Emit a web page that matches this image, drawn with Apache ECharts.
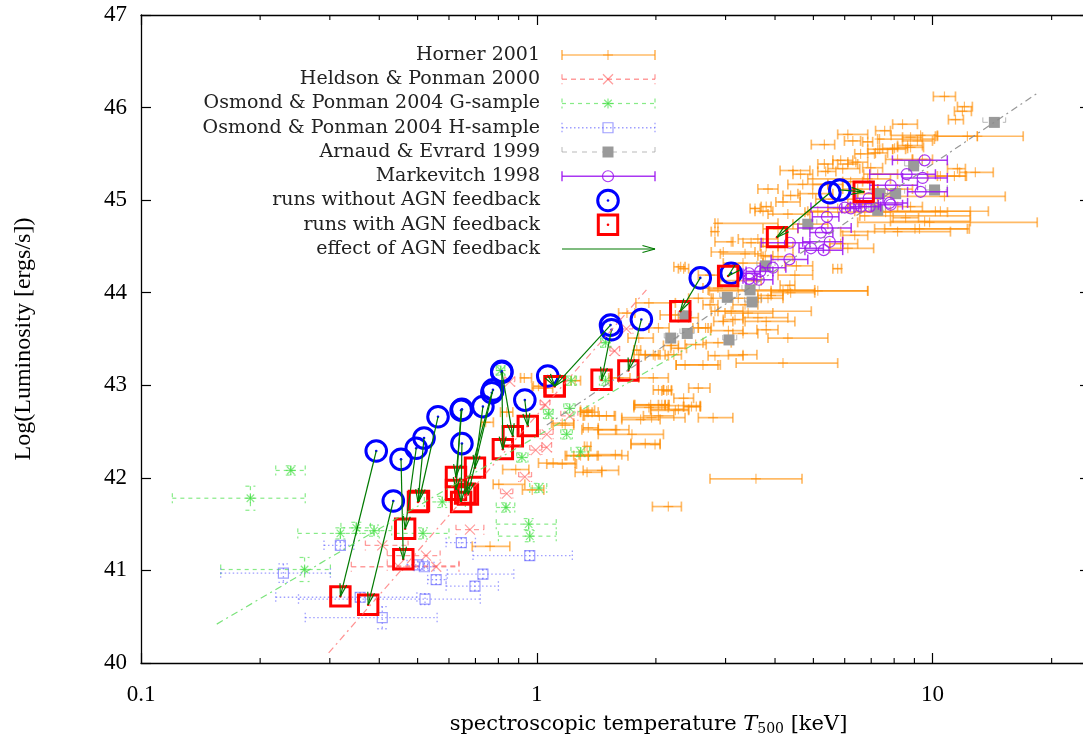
<!DOCTYPE html>
<html><head><meta charset="utf-8">
<script src="https://cdn.jsdelivr.net/npm/echarts@6/dist/echarts.min.js"></script>
<style>html,body{margin:0;padding:0;background:#fff;overflow:hidden}#c{width:1090px;height:741px}</style>
</head><body><div id="c"></div>
<script>
// ---------------- data ----------------
// Horner 2001: [T, logL, Tlow, Thigh]
const horner = [
[3.58,41.99,2.74,4.68],[2.15,41.69,1.96,2.32],[1.34,42.06,1.25,1.46],[1.88,42.37,1.73,2.05],
[1.43,42.52,1.30,1.59],[1.74,42.47,1.43,2.09],[1.42,42.24,1.19,1.70],[1.10,42.16,1.01,1.25],
[1.34,42.34,1.32,1.37],[1.44,42.67,1.32,1.57],[1.34,42.71,1.29,1.38],[1.83,42.63,1.64,2.05],
[1.94,42.79,1.77,2.11],[2.11,42.79,2.03,2.16],[2.24,42.73,1.94,2.42],[2.53,42.77,2.35,2.59],
[2.35,42.86,2.22,2.49],[2.03,42.67,1.86,2.22],[1.18,42.57,1.10,1.24],[2.13,42.94,2.07,2.19],
[2.07,42.79,1.76,2.15],[2.46,42.77,2.35,2.59],[2.28,42.74,1.94,2.42],[2.63,43.22,2.25,2.91],
[4.19,43.24,3.19,5.76],[2.82,43.32,2.71,3.32],[3.32,43.33,3.05,3.60],[1.97,43.33,1.81,2.05],
[2.22,43.33,2.11,2.32],[2.52,43.44,2.37,2.68],[2.03,42.95,1.97,2.09],[3.80,43.60,3.60,4.07],
[3.05,43.59,2.75,3.32],[2.67,43.62,2.56,2.76],[2.96,43.69,2.80,3.13],[3.80,43.69,3.36,4.49],
[3.17,43.71,2.96,3.32],[3.42,43.78,2.99,3.95],[2.24,43.76,2.05,2.35],[4.19,44.02,2.73,6.86],
[4.38,44.00,3.91,5.04],[3.91,43.97,3.62,4.19],[3.36,43.87,3.13,3.62],[3.10,43.80,2.87,3.32],
[4.36,44.08,4.12,4.49],[1.46,42.08,1.31,1.61],[1.58,42.52,1.43,1.71],[2.31,44.28,2.22,2.37],
[2.74,44.19,2.56,2.91],[0.93,43.08,0.91,0.97],[1.01,42.99,0.98,1.05],[1.25,43.05,1.22,1.29],
[1.34,42.73,1.29,1.40],[1.16,42.15,1.06,1.26],[0.84,42.71,0.81,0.87],[2.15,42.95,2.09,2.19],
[2.11,42.78,1.76,2.59],[0.885,42.09,0.82,0.955],[1.29,42.24,1.24,1.35],[2.74,43.87,2.63,2.87],
[2.56,43.62,2.48,2.71],[1.88,43.33,1.76,2.03],[2.19,43.43,2.09,2.28],[2.37,43.22,2.25,2.87],
[1.69,43.78,1.61,1.77],[1.92,43.89,1.78,2.24],[1.79,43.38,1.76,1.83],[1.99,43.32,1.88,2.15],
[2.28,43.40,2.18,2.39],[1.92,42.76,1.76,2.15],[1.95,42.65,1.64,2.37],[1.50,42.67,1.31,1.58],
[1.99,42.36,1.73,2.05],[1.58,42.25,1.28,1.64],[0.743,42.60,0.726,0.777],[10.72,46.12,10.05,11.43],
[11.90,45.96,11.36,12.54],[11.43,45.87,10.97,11.97],[12.98,45.69,10.17,16.95],[9.33,45.70,7.86,10.29],
[7.57,45.75,7.18,7.83],[9.16,45.64,8.40,10.0],[8.80,45.57,8.16,9.49],[8.02,45.56,7.48,8.65],
[11.56,45.34,10.91,12.11],[12.83,45.30,11.70,14.24],[10.47,45.26,9.71,12.18],[10.72,45.04,7.27,15.27],
[10.17,44.88,7.83,13.84],[9.83,44.76,6.47,18.39],[9.27,44.69,7.57,12.39],[8.55,44.81,7.95,9.22],
[12.25,45.69,10.29,12.98],[8.80,45.68,8.40,9.43],[6.29,45.64,5.99,6.58],[6.86,45.63,6.66,7.06],
[5.33,45.60,4.94,5.66],[8.65,45.59,8.16,9.43],[7.93,45.55,7.35,8.55],[7.18,45.51,6.86,7.70],
[6.58,45.50,6.36,7.14],[5.86,45.43,5.60,6.29],[6.40,45.41,6.11,6.86],[4.44,45.32,4.12,4.90],
[5.37,45.31,5.13,5.70],[4.64,45.28,4.44,4.98],[6.11,45.39,5.76,6.47],[6.98,45.35,6.66,7.48],
[6.86,45.23,4.84,7.83],[6.21,45.20,5.93,6.66],[11.36,45.26,10.29,12.11],[3.80,44.93,3.69,3.91],
[4.19,44.98,4.02,4.63],[4.38,45.05,4.19,4.63],[5.13,44.88,4.84,5.44],[5.76,44.91,5.44,6.11],
[10.47,44.88,6.36,12.46],[9.55,44.77,7.83,12.46],[9.03,44.69,7.14,12.25],[8.16,44.66,5.86,11.10],
[3.56,44.91,3.46,3.67],[3.73,44.88,3.56,3.95],[2.87,44.75,2.82,4.07],[2.82,44.66,2.76,2.87],
[3.10,44.55,2.82,3.13],[3.48,44.54,3.32,3.73],[3.80,44.50,3.67,4.07],[4.24,44.50,4.07,4.44],
[2.96,44.44,2.76,3.56],[3.36,44.42,2.91,3.69],[3.78,44.40,3.62,3.95],[2.35,44.26,2.28,2.42],
[4.53,44.29,4.24,4.98],[4.49,44.19,4.07,4.98],[5.76,44.26,5.60,5.89],[3.58,44.13,2.91,3.69],
[4.31,44.03,2.71,5.04],[5.13,44.02,3.91,6.86],[3.23,43.94,2.76,3.69],[3.84,43.94,3.62,4.19],
[2.82,43.80,2.76,4.94],[5.86,44.53,5.50,6.47],[6.11,44.48,5.50,7.10],[6.36,44.62,5.93,6.86],
[6.74,44.83,6.55,12.46],[7.61,44.87,4.76,10.91],[8.80,44.93,8.16,9.43],[7.35,45.66,7.27,10.11],
[5.33,45.39,5.13,5.60],[12.04,46.01,11.56,12.61],[0.762,41.26,0.687,0.855],[1.042,42.97,0.973,1.097],
[1.352,42.71,1.29,1.43],[1.16,42.59,1.09,1.24],[1.35,42.54,1.31,1.43],[1.35,42.24,1.18,1.43],
[0.802,41.93,0.776,0.933],[0.974,41.87,0.92,1.042],
[4.70,45.17,4.31,5.44],[4.98,45.07,4.57,5.60],[5.60,45.01,5.07,6.47],[4.31,44.85,3.84,4.90],
[4.84,44.74,4.44,5.44],[4.07,44.69,3.73,4.57],[6.47,45.12,5.93,7.27],[7.27,45.28,6.70,8.16],
[5.93,45.34,5.44,6.55],[8.16,45.44,7.61,8.90],[7.06,45.07,6.47,7.83],[3.62,44.58,3.23,4.07],
[3.32,44.32,2.96,3.73],[2.87,44.05,2.63,3.23],[2.56,43.94,2.42,2.79],[3.62,43.73,3.32,4.31],
[3.32,43.56,3.13,3.62],[4.31,43.51,3.84,5.44],[2.42,43.73,2.28,2.56],[2.87,43.46,2.63,3.10],
[4.07,44.39,3.73,4.44],[8.16,45.12,7.27,8.90],[9.43,45.44,8.90,10.0],[6.66,44.96,6.11,7.27],
[5.44,45.17,4.98,5.93],[3.84,45.12,3.62,4.07],[7.27,45.55,6.86,7.93],[6.11,45.71,5.76,6.86],
[8.40,45.82,7.93,9.16],[1.81,43.51,1.70,1.97],[2.03,43.62,1.92,2.16],[1.61,43.08,1.52,1.72],
[1.97,43.08,1.81,2.15],[2.56,42.97,2.42,2.74],[2.79,42.65,2.56,3.13]
];
// Heldson & Ponman 2000: [T, logL, Tlow, Thigh]
const heldson = [
[0.407,41.27,0.369,0.473],[0.525,41.16,0.419,0.570],[0.557,41.04,0.340,0.636],[0.446,41.05,0.419,0.636],
[0.678,41.44,0.625,0.735],[0.840,41.83,0.81,0.87],[0.933,42.01,0.90,0.97],[0.994,42.30,0.96,1.03],
[1.06,42.47,1.02,1.10],[1.06,42.33,1.03,1.09],[1.21,42.67,1.15,1.27],[0.855,43.04,0.83,0.88],
[1.685,43.61,1.62,1.75],[1.573,43.37,1.53,1.62],[1.05,42.79,1.02,1.08]
];
// Osmond & Ponman 2004 G-sample: [T, logL, Tlow, Thigh, dlogL]
const osmondG = [
[0.189,41.78,0.120,0.260,0.13],[0.239,42.08,0.219,0.260,0.05],[0.259,41.01,0.159,0.301,0.13],
[0.319,41.40,0.249,0.40,0.06],[0.350,41.46,0.32,0.38,0.06],[0.388,41.43,0.35,0.43,0.06],
[0.516,41.40,0.44,0.60,0.06],[0.577,41.74,0.52,0.66,0.06],[0.954,41.50,0.79,1.12,0.06],
[0.960,41.37,0.80,1.12,0.06],[0.836,41.68,0.79,0.88,0.05],[1.012,41.89,0.96,1.06,0.05],
[0.811,43.16,0.79,0.83,0.05],[1.492,43.46,1.45,1.54,0.05],[1.492,43.05,1.44,1.54,0.05],
[1.211,42.75,1.17,1.25,0.05],[1.072,42.69,1.04,1.10,0.05],[1.190,42.47,1.15,1.23,0.05],
[0.917,42.22,0.89,0.95,0.05],[1.291,42.28,1.22,1.36,0.05],[1.222,43.05,1.19,1.26,0.05]
];
// Osmond & Ponman 2004 H-sample: [T, logL, Tlow, Thigh, dlogL]
const osmondH = [
[0.319,41.27,0.29,0.345,0.04],[0.229,40.97,0.159,0.301,0.10],[0.358,40.71,0.219,0.498,0.05],
[0.407,40.49,0.26,0.56,0.12],[0.501,41.06,0.47,0.53,0.04],[0.520,41.04,0.49,0.55,0.04],
[0.522,40.69,0.25,0.72,0.06],[0.557,40.90,0.53,0.59,0.05],[0.645,41.30,0.59,0.70,0.05],
[0.960,41.16,0.69,1.23,0.05],[0.731,40.96,0.594,0.875,0.05],[0.698,40.83,0.59,0.80,0.05]
];
// Arnaud & Evrard 1999: [T, logL, Tlow, Thigh]
const arnaud = [
[14.33,45.84,13.4,15.3],[8.96,45.37,8.5,9.4],[10.12,45.11,9.6,10.9],[8.07,45.07,7.6,8.5],
[7.35,45.07,7.0,7.7],[7.27,44.89,6.9,7.6],[4.84,44.74,4.6,5.1],[3.78,44.29,3.6,4.0],
[3.46,44.03,3.3,3.65],[3.03,43.95,2.9,3.2],[3.50,43.90,3.35,3.7],[2.37,43.75,2.28,2.46],
[2.18,43.51,2.1,2.27],[2.40,43.56,2.3,2.5],[3.06,43.49,2.95,3.2]
];
// Markevitch 1998: [T, logL, Tlow, Thigh]
const markevitch = [
[9.55,45.43,7.92,10.9],[8.60,45.28,6.94,10.17],[9.44,45.24,8.4,10.9],[7.84,45.16,6.94,9.16],
[9.33,45.09,8.65,10.9],[7.79,44.97,6.55,8.65],[7.84,44.95,7.3,8.4],[6.90,45.02,6.4,7.5],
[6.59,44.93,6.2,7.0],[6.00,44.92,4.93,6.33],[6.94,44.93,6.5,7.4],[6.22,44.91,5.9,6.6],
[5.41,44.82,4.97,5.80],[5.41,44.70,4.57,6.23],[5.22,44.65,4.9,5.6],[5.50,44.55,4.70,5.93],
[5.31,44.46,4.76,5.93],[4.93,44.48,4.6,5.3],[4.36,44.54,3.69,4.90],[4.35,44.36,3.91,4.84],
[3.95,44.27,3.67,4.26],[3.67,44.23,3.38,3.95],[3.44,44.21,3.32,3.67],[3.64,44.14,3.38,3.95],
[3.44,44.15,3.32,3.60]
];
// simulation runs (i-th run without AGN -> i-th run with AGN)
const runsNoAGN = [
[0.393,42.29],[0.434,41.75],[0.454,42.20],[0.496,42.32],[0.519,42.43],[0.563,42.66],
[0.647,42.74],[0.647,42.37],[0.644,42.73],[0.770,42.92],[0.775,42.95],[0.731,42.77],
[0.816,43.15],[0.816,43.14],[0.933,42.84],[1.066,43.10],[1.536,43.65],[1.545,43.60],
[1.838,43.71],[2.589,44.16],[3.099,44.21],[5.503,45.08],[5.831,45.11]
];
const runsAGN = [
[0.319,40.72],[0.375,40.63],[0.460,41.12],[0.465,41.45],[0.501,41.74],[0.504,41.75],
[0.625,42.01],[0.644,41.74],[0.625,41.87],[0.659,41.83],[0.670,41.82],[0.698,42.11],
[0.870,42.45],[0.821,42.31],[0.949,42.56],[1.110,42.99],[1.110,42.99],[1.458,43.06],
[1.704,43.16],[2.305,43.80],[3.045,44.18],[4.047,44.60],[6.70,45.09]
];
// power-law fit lines (end points)
const fitHeldson = [[0.298,40.11],[1.893,44.03]];
const fitOsmondG = [[0.1554,40.42],[2.76,43.555]];
const fitArnaud  = [[1.06,42.57],[18.39,46.155]];
// axes
const xMajorTicks = [0.1, 1, 10];
const xMinorTicks = [0.2,0.3,0.4,0.5,0.6,0.7,0.8,0.9,2,3,4,5,6,7,8,9,20];
const yTicks = [40,41,42,43,44,45,46,47];
const legendLabels = ['Horner 2001','Heldson & Ponman 2000','Osmond & Ponman 2004 G-sample',
  'Osmond & Ponman 2004 H-sample','Arnaud & Evrard 1999','Markevitch 1998',
  'runs without AGN feedback','runs with AGN feedback','effect of AGN feedback'];

// ---------------- styles ----------------
const ST = {
  horner: {color:'rgba(255,140,0,0.6)', lw:1.7, cap:5, marker:'+', ms:5},
  heldson:{color:'rgba(255,90,90,0.6)', lw:1.3, dash:[5,4], cap:5, marker:'x', ms:5},
  osmG:   {color:'rgba(70,225,70,0.65)', lw:1.2, dash:[4,4], cap:5, marker:'*', ms:5},
  osmH:   {color:'rgba(95,95,255,0.6)', lw:1.3, dash:[1.5,2.5], cap:5, marker:'sq', ms:5},
  arnaud: {color:'rgba(150,150,150,0.55)', lw:1.2, dash:[5,5], cap:5, marker:'fsq', ms:5.5, mfill:'#9a9a9a'},
  mark:   {color:'rgba(155,20,240,0.85)', lw:1.5, cap:5, marker:'circ', ms:5.5}
};
function L(x1,y1,x2,y2,style){return {type:'line', shape:{x1:x1,y1:y1,x2:x2,y2:y2}, style:Object.assign({},style)};}
function glyph(cx, cy, lx, hx, st, vTop, vBot) {
  const ch = [];
  const ls = {stroke:st.color, lineWidth:st.lw, lineDash:st.dash||null, fill:'none'};
  if (lx != null) {
    ch.push(L(lx,cy,hx,cy,ls));
    ch.push(L(lx,cy-st.cap,lx,cy+st.cap,ls));
    ch.push(L(hx,cy-st.cap,hx,cy+st.cap,ls));
  }
  if (vTop != null) {
    ch.push(L(cx,vTop,cx,vBot,ls));
    ch.push(L(cx-st.cap,vTop,cx+st.cap,vTop,ls));
    ch.push(L(cx-st.cap,vBot,cx+st.cap,vBot,ls));
  }
  const ms = {stroke:st.color, lineWidth:1.2, fill:'none'};
  const s = st.ms;
  if (st.marker === '+') { ch.push(L(cx-s,cy,cx+s,cy,ms)); ch.push(L(cx,cy-s,cx,cy+s,ms)); }
  else if (st.marker === 'x') { ch.push(L(cx-s,cy-s,cx+s,cy+s,ms)); ch.push(L(cx-s,cy+s,cx+s,cy-s,ms)); }
  else if (st.marker === '*') { const d=s*0.75; ch.push(L(cx-s,cy,cx+s,cy,ms)); ch.push(L(cx,cy-s,cx,cy+s,ms));
    ch.push(L(cx-d,cy-d,cx+d,cy+d,ms)); ch.push(L(cx-d,cy+d,cx+d,cy-d,ms)); }
  else if (st.marker === 'sq') { ch.push({type:'rect', shape:{x:cx-s,y:cy-s,width:2*s,height:2*s}, style:ms}); }
  else if (st.marker === 'fsq') { ch.push({type:'rect', shape:{x:cx-s,y:cy-s,width:2*s,height:2*s}, style:{fill:st.mfill, stroke:'none'}}); }
  else if (st.marker === 'circ') { ch.push({type:'circle', shape:{cx:cx,cy:cy,r:s}, style:ms}); }
  return ch;
}
function errRender(st, hasDy) {
  return function(params, api) {
    const x = api.value(0), y = api.value(1);
    const c = api.coord([x,y]), lo = api.coord([api.value(2),y]), hi = api.coord([api.value(3),y]);
    let vt = null, vb = null;
    if (hasDy) { const d = api.value(4); vt = api.coord([x,y+d])[1]; vb = api.coord([x,y-d])[1]; }
    return {type:'group', children: glyph(c[0], c[1], lo[0], hi[0], st, vt, vb)};
  };
}
function circleGlyph(cx, cy){ return [
  {type:'circle', shape:{cx:cx,cy:cy,r:10.3}, style:{stroke:'#0000ff', lineWidth:3, fill:'none'}},
  {type:'circle', shape:{cx:cx,cy:cy,r:1.3}, style:{fill:'#0000ff'}}]; }
function squareGlyph(cx, cy){ return [
  {type:'rect', shape:{x:cx-9.7,y:cy-9.7,width:19.4,height:19.4}, style:{stroke:'#ff0000', lineWidth:3, fill:'none'}},
  {type:'circle', shape:{cx:cx,cy:cy,r:1.3}, style:{fill:'#ff0000'}}]; }
function arrowGlyph(x1,y1,x2,y2){
  const dx=x2-x1, dy=y2-y1, len=Math.hypot(dx,dy)||1, ux=dx/len, uy=dy/len;
  const hl=13, a=0.27, c=Math.cos(a), s=Math.sin(a), bx=-ux, by=-uy;
  const st={stroke:'#007a00', lineWidth:1.2, fill:'none'};
  return [L(x1,y1,x2,y2,st),
    L(x2,y2,x2+hl*(bx*c-by*s),y2+hl*(bx*s+by*c),st),
    L(x2,y2,x2+hl*(bx*c+by*s),y2+hl*(-bx*s+by*c),st)];
}
const arrows = runsNoAGN.map((b,i)=>[b[0],b[1],runsAGN[i][0],runsAGN[i][1]]);

function custom(data, render){ return {type:'custom', data:data, renderItem:render, silent:true, encode:{x:0,y:1}}; }
function fitLine(data, color){ return {type:'line', data:data, showSymbol:false, silent:true,
  lineStyle:{color:color, width:1.2, type:[7,4,2,4]}}; }

// ---------------- legend (gnuplot style key) ----------------
const legendEls = [];
const keyFont = '19px "DejaVu Serif"';
legendLabels.forEach((t,i)=>{
  const y = 55 + i*24.25;
  legendEls.push({type:'text', x:540, y:y, style:{text:t, font:keyFont, fill:'#222', textAlign:'right', textVerticalAlign:'middle', verticalAlign:'middle'}});
  let ch = [];
  const stl = [ST.horner, ST.heldson, ST.osmG, ST.osmH, ST.arnaud, ST.mark][i];
  if (stl) ch = glyph(608, y, 562, 655, stl);
  else if (i===6) ch = circleGlyph(608, y);
  else if (i===7) ch = squareGlyph(608, y);
  else ch = arrowGlyph(562, y, 655, y);
  ch.forEach(e=>legendEls.push(e));
});

const tickFont = {fontFamily:'"Liberation Serif"', fontSize:23, color:'#000'};
const axLine = {show:true, lineStyle:{color:'#000', width:1.3}};
function xAx(pos, labels){ return {type:'log', logBase:10, min:0.1, max:25, position:pos,
  axisLine:axLine, axisTick:{inside:true, length:10, lineStyle:{color:'#000', width:1.2}},
  axisLabel:{show:labels, margin:20, showMaxLabel:false, showMinLabel:true, ...tickFont,
    formatter:v=>{ for(const t of xMajorTicks){ if(Math.abs(v-t)/t<1e-6) return String(t);} return ''; }},
  splitLine:{show:false},
  name: labels ? '{a|spectroscopic temperature }{i|T}{s|500}{a| [keV]}' : '',
  nameLocation:'middle', nameGap:48,
  nameTextStyle:{padding:[0,0,0,66], rich:{a:{fontFamily:'"DejaVu Serif"', fontSize:21, color:'#000', lineHeight:28},
    i:{fontFamily:'"DejaVu Serif"', fontStyle:'italic', fontSize:21, color:'#000', lineHeight:28},
    s:{fontFamily:'"DejaVu Serif"', fontSize:14, color:'#000', lineHeight:28, padding:[8,0,0,0]}}}
}; }
function yAx(pos, labels){ return {type:'value', min:yTicks[0], max:yTicks[yTicks.length-1], interval:1, position:pos,
  axisLine:axLine, axisTick:{inside:true, length:10, lineStyle:{color:'#000', width:1.2}},
  axisLabel:{show:labels, margin:14, ...tickFont}, splitLine:{show:false},
  name: labels ? 'Log(Luminosity [ergs/s])' : '', nameLocation:'middle', nameGap:105,
  nameTextStyle:{fontFamily:'"Liberation Serif"', fontSize:24, color:'#000'}}; }

const option = {
  animation:false, backgroundColor:'#fff',
  grid:{left:141, top:15, right:0, bottom:74, containLabel:false},
  xAxis:[xAx('bottom', true), xAx('top', false)],
  yAxis:[yAx('left', true), yAx('right', false)],
  graphic:{elements:legendEls},
  series:[
    fitLine(fitHeldson,'rgba(255,110,110,0.75)'),
    fitLine(fitOsmondG,'rgba(90,220,90,0.8)'),
    fitLine(fitArnaud,'rgba(140,140,140,0.9)'),
    custom(horner, errRender(ST.horner,false)),
    custom(heldson, errRender(ST.heldson,false)),
    custom(osmondG, errRender(ST.osmG,true)),
    custom(osmondH, errRender(ST.osmH,true)),
    custom(arnaud, errRender(ST.arnaud,false)),
    custom(markevitch, errRender(ST.mark,false)),
    custom(runsNoAGN, (p,api)=>{const c=api.coord([api.value(0),api.value(1)]); return {type:'group', children:circleGlyph(c[0],c[1])};}),
    custom(runsAGN, (p,api)=>{const c=api.coord([api.value(0),api.value(1)]); return {type:'group', children:squareGlyph(c[0],c[1])};}),
    custom(arrows, (p,api)=>{const a=api.coord([api.value(0),api.value(1)]), b=api.coord([api.value(2),api.value(3)]);
      return {type:'group', children:arrowGlyph(a[0],a[1],b[0],b[1])};}),
    custom(xMinorTicks.map(v=>[v,40]), (p,api)=>{const v=api.value(0); const a=api.coord([v,40]), b=api.coord([v,47]);
      const st={stroke:'#000', lineWidth:1.1};
      return {type:'group', children:[L(a[0],a[1],a[0],a[1]-5,st), L(b[0],b[1],b[0],b[1]+5,st)]};})
  ]
};
const chart = echarts.init(document.getElementById('c'), null, {renderer:'canvas'});
chart.setOption(option);
</script></body></html>
